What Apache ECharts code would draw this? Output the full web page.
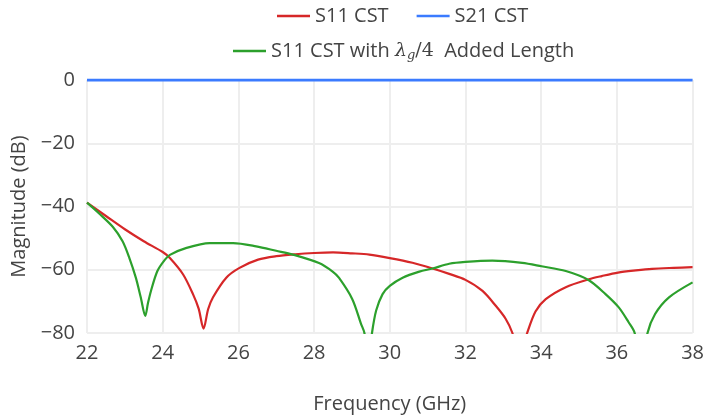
<!DOCTYPE html>
<html lang="en">
<head>
  <meta charset="UTF-8">
  <title>S-parameters</title>
  <script src="https://cdn.jsdelivr.net/npm/echarts@6/dist/echarts.min.js"></script>
  <style>
    html, body { margin: 0; padding: 0; background: #fff; }
    #main { width: 707px; height: 419px; }
  </style>
</head>
<body>
  <div id="main"></div>
  <script>
    // frequency ticks (GHz) and magnitude ticks (dB)
    var freqTicks = [22, 24, 26, 28, 30, 32, 34, 36, 38];
    var magTicks = [-80, -60, -40, -20, 0];

    // S11 CST
    var s11Freq = [22, 22.5, 23, 23.5, 24, 24.19, 24.54, 24.8, 24.95, 25.08, 25.2, 25.33, 25.68, 26.03, 26.52, 27, 27.5, 28, 28.5, 29, 29.46, 30, 30.6, 31.13, 31.57, 32, 32.45, 32.8, 33.06, 33.24, 33.43, 33.63, 33.85, 34.12, 34.65, 35.26, 35.6, 36.03, 36.5, 36.93, 37.5, 38];
    var s11Mag = [-38.8, -43, -47.2, -51, -54.4, -56.3, -61.5, -67.7, -72.3, -78.6, -72.5, -68.7, -62.5, -59.4, -56.8, -55.7, -55.1, -54.7, -54.5, -54.8, -55.2, -56.3, -57.8, -59.6, -61.3, -63.2, -66.7, -71.4, -75.5, -80, -88, -80, -73.2, -69.3, -65.5, -63, -62, -60.9, -60.2, -59.7, -59.4, -59.2];

    // S21 CST
    var s21Freq = [22, 24, 26, 28, 30, 32, 34, 36, 38];
    var s21Mag = [0, 0, 0, 0, 0, 0, 0, 0, 0];

    // S11 CST with lambda_g/4 added length
    var s11lFreq = [22, 22.32, 22.68, 22.94, 23.12, 23.29, 23.42, 23.54, 23.61, 23.69, 23.86, 24.06, 24.19, 24.63, 25.24, 25.86, 26.47, 27, 27.44, 28.13, 28.49, 28.66, 29.01, 29.24, 29.33, 29.43, 29.53, 29.64, 29.81, 30, 30.34, 30.78, 31.13, 31.57, 32, 32.71, 33.5, 34.01, 34.65, 35.26, 35.7, 36.05, 36.31, 36.47, 36.64, 36.81, 37.01, 37.37, 38];
    var s11lMag = [-38.8, -42.2, -46.4, -51, -56.3, -62.5, -68.7, -74.6, -70.6, -66.7, -60.4, -56.8, -55.3, -53.1, -51.6, -51.6, -52.6, -54, -55.2, -57.9, -60.6, -62.6, -69.3, -77.1, -80, -90, -80, -72.9, -67.7, -65.1, -62.5, -60.6, -59.6, -58.1, -57.5, -57.1, -57.8, -58.9, -60.4, -63.3, -67.7, -71.9, -76.6, -80, -92, -80, -74, -68.8, -64];

    function pairs(xs, ys) {
      return xs.map(function (x, i) { return [x, ys[i]]; });
    }

    var textColor = '#444';
    var font = '"Open Sans", "Noto Sans", sans-serif';
    var mathFont = '"DejaVu Serif", serif';
    var greenName = 'S11 CST with λg/4 Added Length';

    var myChart = echarts.init(document.getElementById('main'));
    var option = {
      animation: false,
      textStyle: { fontFamily: font },
      legend: [{
        left: 272,
        top: 1,
        itemWidth: 33,
        itemHeight: 2.5,
        itemGap: 28,
        icon: 'rect',
        data: ['S11 CST', 'S21 CST'],
        textStyle: { color: textColor, fontSize: 20, fontFamily: font }
      }, {
        left: 228,
        top: 36,
        itemWidth: 33,
        itemHeight: 2.5,
        icon: 'rect',
        data: [greenName],
        formatter: function () {
          return '{t|S11 CST with }{m|λ}{s|g}{u|/4}{t|  Added Length}';
        },
        textStyle: {
          color: textColor,
          fontSize: 20,
          fontFamily: font,
          rich: {
            t: { fontSize: 20, fontFamily: font, color: textColor },
            m: { fontSize: 19, fontFamily: mathFont, fontStyle: 'italic', color: textColor },
            s: { fontSize: 13, fontFamily: mathFont, fontStyle: 'italic', color: textColor, verticalAlign: 'bottom', padding: [9, 0, 0, 0] },
            u: { fontSize: 19, fontFamily: mathFont, color: textColor }
          }
        }
      }],
      grid: {
        left: 87,
        right: 13,
        top: 80,
        bottom: 83,
        containLabel: false
      },
      xAxis: {
        type: 'value',
        min: freqTicks[0],
        max: freqTicks[freqTicks.length - 1],
        interval: 2,
        name: 'Frequency (GHz)',
        nameLocation: 'middle',
        nameGap: 61,
        nameTextStyle: { color: textColor, fontSize: 20, fontFamily: font },
        axisLine: { show: false },
        axisTick: { show: false },
        axisLabel: { color: textColor, fontSize: 20, margin: 10, fontFamily: font },
        splitLine: { show: true, lineStyle: { color: '#eeeeee', width: 2 } }
      },
      yAxis: {
        type: 'value',
        min: magTicks[0],
        max: magTicks[magTicks.length - 1],
        interval: 20,
        name: 'Magnitude (dB)',
        nameLocation: 'middle',
        nameGap: 52,
        nameTextStyle: { color: textColor, fontSize: 20, fontFamily: font },
        axisLine: { show: false },
        axisTick: { show: false },
        axisLabel: {
          color: textColor,
          fontSize: 20,
          margin: 12,
          fontFamily: font,
          formatter: function (v) { return String(v).replace('-', '\u2212'); }
        },
        splitLine: { show: true, lineStyle: { color: '#eeeeee', width: 2 } }
      },
      series: [{
        name: 'S11 CST',
        type: 'line',
        data: pairs(s11Freq, s11Mag),
        showSymbol: false,
        smooth: 0.3,
        lineStyle: { color: '#d62728', width: 2.2 },
        itemStyle: { color: '#d62728' },
        z: 3
      }, {
        name: 'S21 CST',
        type: 'line',
        data: pairs(s21Freq, s21Mag),
        showSymbol: false,
        lineStyle: { color: '#3b7bff', width: 3 },
        itemStyle: { color: '#3b7bff' },
        z: 2
      }, {
        name: greenName,
        type: 'line',
        data: pairs(s11lFreq, s11lMag),
        showSymbol: false,
        smooth: 0.3,
        lineStyle: { color: '#2ca02c', width: 2.2 },
        itemStyle: { color: '#2ca02c' },
        z: 4
      }]
    };
    myChart.setOption(option);
  </script>
</body>
</html>
